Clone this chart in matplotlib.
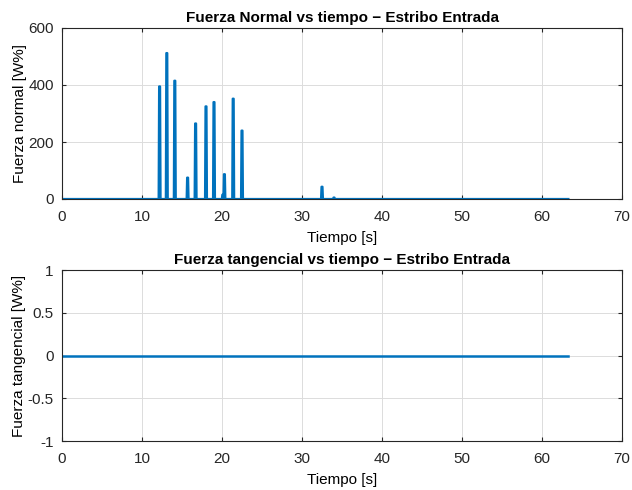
import numpy as np
import matplotlib
matplotlib.use('Agg')
import matplotlib.pyplot as plt

# Spikes of the normal force (time [s], peak [W%])
spike_t = [12.2, 13.1, 14.1, 15.7, 16.7, 18.0, 19.0, 20.1, 20.3, 21.4, 22.5, 32.5, 34.0]
spike_peak = [395, 512, 415, 75, 265, 325, 340, 15, 87, 352, 240, 43, 5]
t_end = 63.3
tang_value = 0.0

blue = '#0072BD'
plt.rcParams['font.family'] = ['Liberation Sans', 'DejaVu Sans']


def pulse_series(times, peaks, width=0.12):
    t = [0.0]
    y = [0.0]
    for ti, pi in zip(times, peaks):
        t += [ti - width, ti - width / 2, ti + width / 2, ti + width]
        y += [0.0, pi, pi, 0.0]
    t.append(t_end)
    y.append(0.0)
    return np.array(t), np.array(y)


def style_axes(ax):
    ax.grid(True, color='#dcdcdc', linewidth=0.7)
    ax.set_axisbelow(True)
    ax.tick_params(direction='in', length=3, labelsize=11, colors='#262626',
                   top=True, right=True, labeltop=False, labelright=False)
    ax.tick_params(axis='x', pad=8)
    ax.tick_params(axis='y', pad=6)
    for s in ax.spines.values():
        s.set_color('#262626')
        s.set_linewidth(0.8)


fig = plt.figure(figsize=(6.32, 4.9), dpi=100)
W, H = 632, 490
ax1 = fig.add_axes([62 / W, 1 - 199 / H, 560 / W, 171 / H])
ax2 = fig.add_axes([62 / W, 1 - 441 / H, 560 / W, 171 / H])

t, y = pulse_series(spike_t, spike_peak)
ax1.plot(t, y, color=blue, linewidth=1.6)
ax1.set_xlim(0, 70)
ax1.set_ylim(0, 600)
ax1.set_xticks(range(0, 71, 10))
ax1.set_yticks([0, 200, 400, 600])
ax1.set_title('Fuerza Normal vs tiempo \u2212 Estribo Entrada', fontsize=11,
              fontweight='bold', pad=4)
ax1.set_xlabel('Tiempo [s]', fontsize=11, labelpad=5)
ax1.set_ylabel('Fuerza normal [W%]', fontsize=11, labelpad=1)
style_axes(ax1)

ax2.plot([0, t_end], [tang_value, tang_value], color=blue, linewidth=1.8)
ax2.set_xlim(0, 70)
ax2.set_ylim(-1, 1)
ax2.set_xticks(range(0, 71, 10))
ax2.set_yticks([-1, -0.5, 0, 0.5, 1])
ax2.set_yticklabels(['-1', '-0.5', '0', '0.5', '1'])
ax2.set_title('Fuerza tangencial vs tiempo \u2212 Estribo Entrada', fontsize=11,
              fontweight='bold', pad=4)
ax2.set_xlabel('Tiempo [s]', fontsize=11, labelpad=5)
ax2.set_ylabel('Fuerza tangencial [W%]', fontsize=11, labelpad=1)
style_axes(ax2)

fig.savefig('out.png', dpi=100)
